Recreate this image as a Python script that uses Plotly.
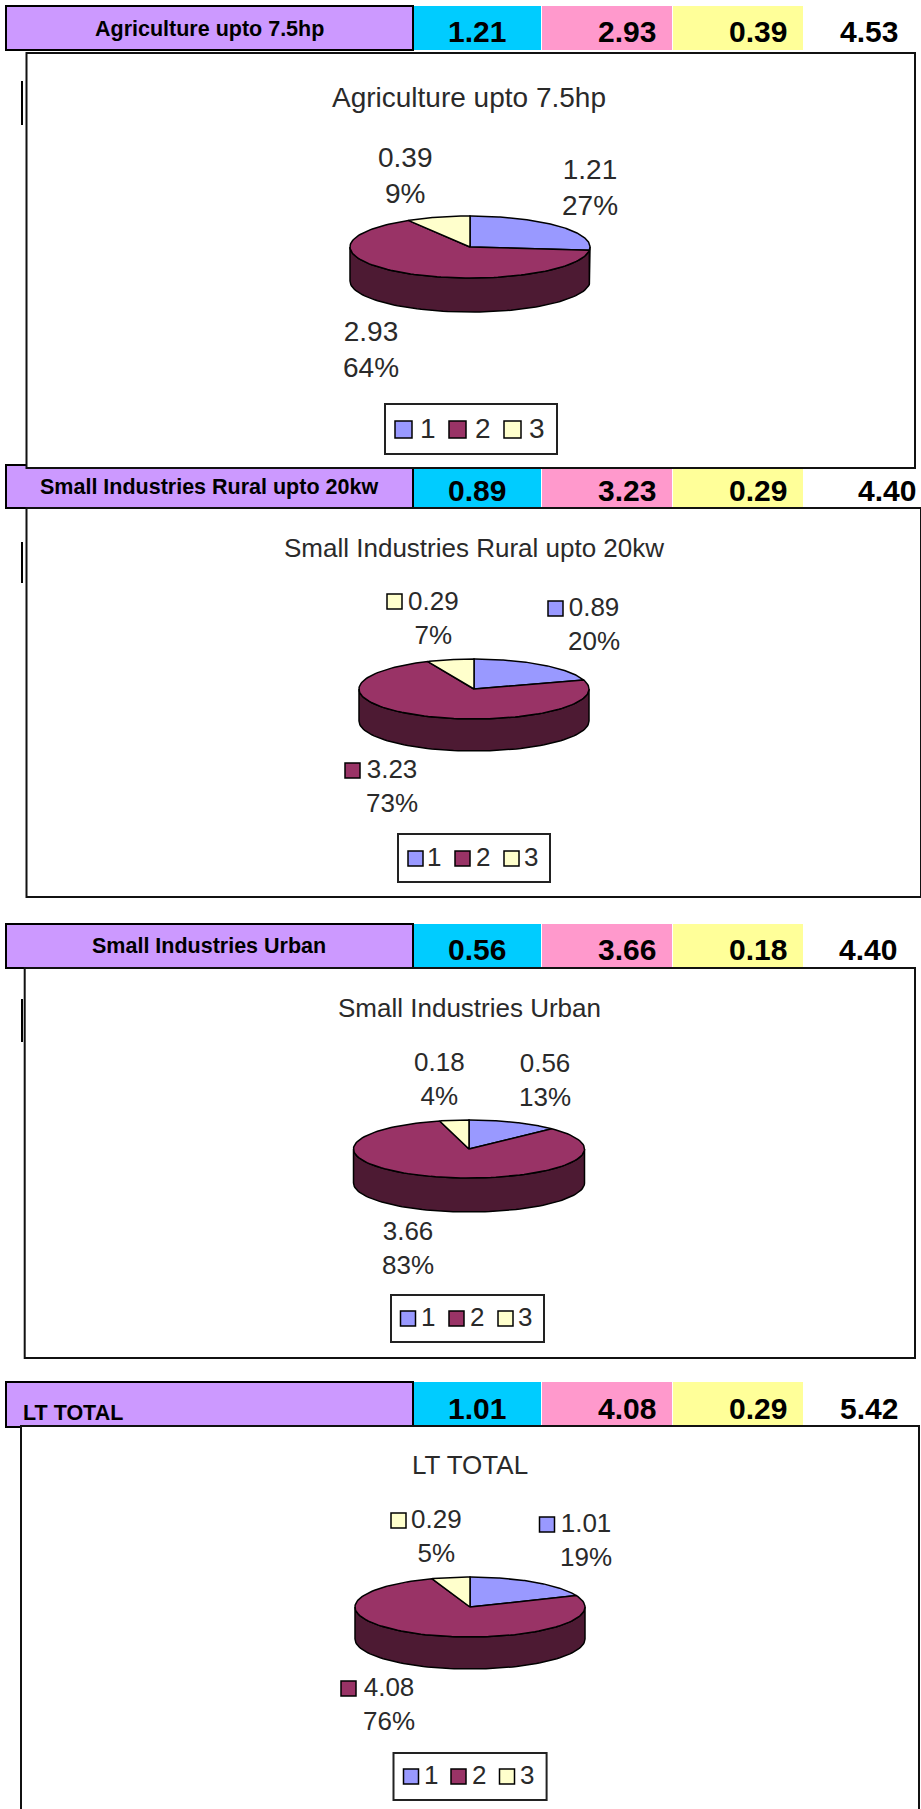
import numpy as np
import plotly.graph_objects as go

titles = ['Agriculture upto 7.5hp', 'Small Industries Rural upto 20kw',
          'Small Industries Urban', 'LT TOTAL']
col1 = [1.21, 0.89, 0.56, 1.01]
col2 = [2.93, 3.23, 3.66, 4.08]
col3 = [0.39, 0.29, 0.18, 0.29]
totals = [4.53, 4.40, 4.40, 5.42]
pct1 = [27, 20, 13, 19]
pct2 = [64, 73, 83, 76]
pct3 = [9, 7, 4, 5]
legend_labels = ['1', '2', '3']

top_colors = ['#9999FF', '#993366', '#FFFFCC']
side_colors = ['#4D4D80', '#4D1A33', '#80806A']
FONT = 'Liberation Sans'

# page layout, in pixels of the 921x1809 page
panels = [
    dict(head=(6, 50), text_y=29, val_y=31, total_x=869,
         box=(26.5, 53, 915, 468), tick=(81, 125), size=28, title=(469, 97),
         pie=(470, 247, 120, 31, 34),
         labels=[(590, 187), (371, 349), (405, 175)], keys=None,
         legend=(385, 404, 557, 454), sw=[395, 449, 504], sw_w=17, sw_y=421, num=[428, 483, 537], num_y=428),
    dict(head=(465, 508), text_y=487, val_y=490, total_x=887,
         box=(26.5, 508, 921, 897), tick=(542, 583), size=26, title=(474, 548),
         pie=(474, 689, 115, 30, 32),
         labels=[(594, 624), (392, 786), (433, 618)], keys=[(548, 601), (345, 763), (387, 594)],
         legend=(398, 834, 550, 882), sw=[408, 455, 504], sw_w=15, sw_y=851, num=[434, 483, 531], num_y=857),
    dict(head=(924, 968), text_y=946, val_y=949, total_x=868,
         box=(24.7, 968, 915, 1358), tick=(999, 1042), size=26, title=(469.5, 1008),
         pie=(469, 1149, 115.5, 29, 34),
         labels=[(545, 1080), (408, 1248), (439, 1079)], keys=None,
         legend=(391, 1295, 544, 1342), sw=[400.5, 449, 498], sw_w=15, sw_y=1311, num=[428, 477, 525], num_y=1317),
    dict(head=(1382, 1427), text_y=1413, val_y=1408, total_x=869,
         box=(21, 1426, 919, 1815), tick=None, size=26, title=(470, 1465),
         pie=(470, 1607, 115, 30, 32),
         labels=[(586, 1540), (389, 1704), (436, 1536)], keys=[(539.5, 1517), (341, 1681), (391, 1513)],
         legend=(393.5, 1753, 546.6, 1800), sw=[403.5, 451, 499.5], sw_w=15, sw_y=1769, num=[430.5, 479, 527], num_y=1775),
]
col_edges = [6, 413, 541, 672, 803]
col_fills = ['#CC99FF', '#00CCFF', '#FF99CC', '#FFFF99']
val_x = [477, 627, 758]


def rect(x0, y0, x1, y1, fill, line='black', width=2):
    return dict(type='rect', xref='x', yref='y', x0=x0, y0=y0, x1=x1, y1=y1, layer='below',
                fillcolor=fill, line=dict(color=line, width=width))


def note(x, y, text, size, bold=False, color='#2a2a2a', xanchor='center'):
    if bold:
        text = '<b>' + text + '</b>'
    return dict(x=x, y=y, xref='x', yref='y', text=text, showarrow=False, xanchor=xanchor,
                yanchor='middle', font=dict(family=FONT, size=size, color=color))


fig = go.Figure()
shapes = []
annotations = []

# header rows are laid first so each chart frame can sit over the next row
for i, p in enumerate(panels):
    y0, y1 = p['head']
    shapes.append(rect(col_edges[0], y0, col_edges[1], y1, col_fills[0]))
    for k in range(1, 4):
        shapes.append(rect(col_edges[k] + 1, y0, col_edges[k + 1], y1, col_fills[k], line=col_fills[k], width=0))

    if i == 3:
        annotations.append(note(21, p['text_y'], titles[i], 21.5, True, 'black', 'left'))
    else:
        annotations.append(note(209, p['text_y'], titles[i], 21.5, True, 'black'))
    for x, v in zip(val_x, [col1[i], col2[i], col3[i]]):
        annotations.append(note(x, p['val_y'], f'{v:.2f}', 30, True, 'black'))
    annotations.append(note(p['total_x'], p['val_y'], f'{totals[i]:.2f}', 30, True, 'black'))

for i, p in enumerate(panels):
    if p['tick']:
        shapes.append(dict(type='line', xref='x', yref='y', x0=22, x1=22, y0=p['tick'][0], y1=p['tick'][1],
                           layer='below', line=dict(color='black', width=2)))
    shapes.append(rect(*p['box'], 'white', line='#111111'))
    shapes.append(rect(*p['legend'], 'white', line='#222222'))
    for x, color, num, lab in zip(p['sw'], top_colors, p['num'], legend_labels):
        shapes.append(rect(x, p['sw_y'], x + p['sw_w'], p['sw_y'] + p['sw_w'], color, width=1.5))
        annotations.append(note(num, p['num_y'], lab, p['size']))

    annotations.append(note(p['title'][0], p['title'][1], titles[i], p['size']))

    values = [col1[i], col2[i], col3[i]]
    pcts = [pct1[i], pct2[i], pct3[i]]
    for j in range(3):
        annotations.append(note(p['labels'][j][0], p['labels'][j][1],
                                f'{values[j]:.2f}<br>{pcts[j]}%', p['size']))
        if p['keys']:
            kx, ky = p['keys'][j]
            shapes.append(rect(kx, ky, kx + 15, ky + 15, top_colors[j], width=1.5))

    # slice angles come from the values, clockwise from 12 o'clock
    cx, cy, rx, ry, depth = p['pie']
    edges = np.concatenate([[0], np.cumsum(values)]) / sum(values) * 360

    for j in range(3):
        a, b = max(edges[j], 90), min(edges[j + 1], 270)
        if b <= a:
            continue
        t = np.radians(np.linspace(a, b, 80))
        xs = cx + rx * np.sin(t)
        ys = cy - ry * np.cos(t)
        fig.add_trace(go.Scatter(x=np.r_[xs, xs[::-1], xs[0]], y=np.r_[ys, ys[::-1] + depth, ys[0]],
                                 mode='lines', fill='toself', fillcolor=side_colors[j],
                                 line=dict(color='black', width=1.5), hoverinfo='skip'))
    for j in range(3):
        t = np.radians(np.linspace(edges[j], edges[j + 1], 120))
        xs = cx + rx * np.sin(t)
        ys = cy - ry * np.cos(t)
        fig.add_trace(go.Scatter(x=np.r_[cx, xs, cx], y=np.r_[cy, ys, cy],
                                 mode='lines', fill='toself', fillcolor=top_colors[j],
                                 line=dict(color='black', width=1.5),
                                 name=legend_labels[j], text=f'{values[j]:.2f} ({pcts[j]}%)', hoverinfo='name+text'))

fig.update_xaxes(range=[0, 921], visible=False)
fig.update_yaxes(range=[1809, 0], visible=False)
fig.update_layout(width=921, height=1809, margin=dict(l=0, r=0, t=0, b=0), showlegend=False,
                  paper_bgcolor='white', plot_bgcolor='white', shapes=shapes, annotations=annotations)

# the page's default body margin would push the figure 8px in
fig.write_html("out.html", config={'displayModeBar': False},
               post_script="document.body.style.margin = '0';")
